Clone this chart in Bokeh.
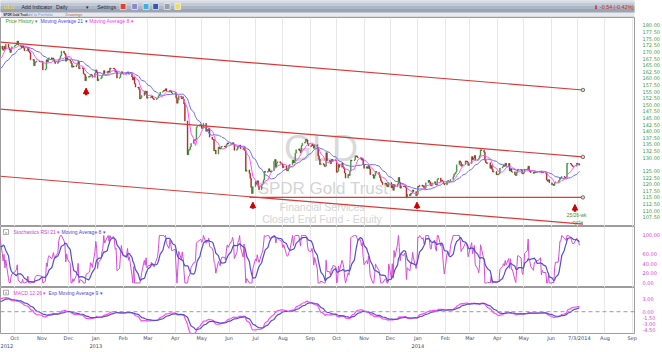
import numpy as np
import pandas as pd
from bokeh.plotting import figure
from bokeh.layouts import column
from bokeh.models import (Range1d, FixedTicker, PrintfTickFormatter, LinearAxis, Grid,
                          Span, Label, Arrow, NormalHead, ColumnDataSource)
from bokeh.core.properties import value
from bokeh.embed import file_html
from bokeh.resources import INLINE

FONT = "DejaVu Sans"
TFONT = "Liberation Sans"

# ---------------- data: GLD daily closes, one row per week (Mon..Fri) ----------------
first_monday = "2012-07-16"
weekly_closes = [
    [153.8, 154.6, 153.2, 154.4, 152.9],
    [152.8, 154.7, 156.4, 157.2, 157.2],
    [157.0, 157.3, 156.0, 155.5, 157.6],
    [157.8, 156.9, 157.6, 157.9, 157.4],
    [156.8, 156.6, 156.3, 156.9, 157.6],
    [158.5, 160.8, 161.7, 161.1, 160.5],
    [161.0, 161.5, 161.3, 160.6, 164.0],
    [164.2, 164.5, 164.3, 163.6, 166.0],
    [166.2, 167.5, 168.3, 170.5, 172.2],
    [171.1, 170.6, 172.1, 171.2, 172.9],
    [171.6, 170.8, 169.8, 171.2, 171.9],
    [172.3, 172.6, 172.9, 174.1, 172.6],
    [172.1, 171.5, 172.3, 171.5, 170.4],
    [170.6, 171.7, 170.2, 169.7, 167.0],
    [167.1, 164.8, 166.0, 166.3, 166.6],
    [166.5, 166.5, 166.3, 166.4, 163.2],
    [163.5, 167.0, 166.2, 167.5, 167.8],
    [167.2, 167.7, 167.2, 166.2, 165.6],
    [166.0, 167.1, 167.5, 168.5, 170.3],
    [169.6, 169.1, 166.5, 167.8, 166.9],
    [166.5, 165.7, 164.2, 164.7, 164.3],
    [165.0, 165.5, 166.4, 163.6, 164.0],
    [163.8, 161.7, 161.5, 159.1, 160.6],
    [160.7, 160.7, 161.5, 161.3, 160.4],
    [162.0, 163.2, 162.3, 159.1, 159.8],
    [160.2, 161.0, 161.4, 162.9, 161.9],
    [162.6, 162.8, 162.1, 163.9, 163.6],
    [163.8, 163.5, 162.5, 162.6, 160.1],
    [160.3, 161.6, 162.5, 161.8, 161.8],
    [161.8, 162.0, 162.4, 161.6, 161.8],
    [160.5, 159.4, 160.5, 158.0, 156.7],
    [156.6, 155.8, 152.2, 152.7, 153.5],
    [155.2, 154.0, 155.1, 152.5, 152.8],
    [152.9, 153.3, 152.6, 152.3, 151.9],
    [152.4, 152.6, 153.4, 153.9, 154.8],
    [155.0, 155.5, 155.3, 156.1, 155.2],
    [154.8, 155.5, 155.1, 154.5, 154.5],
    [154.6, 152.7, 150.6, 151.8, 153.3],
    [152.3, 153.0, 152.2, 150.3, 143.9],
    [131.1, 133.0, 133.1, 134.1, 135.4],
    [136.8, 136.5, 137.0, 141.5, 141.9],
    [142.5, 142.3, 141.1, 141.3, 143.0],
    [140.0, 140.7, 140.1, 141.2, 137.8],
    [137.0, 136.9, 132.6, 132.9, 131.4],
    [134.0, 133.5, 133.3, 134.1, 134.4],
    [134.3, 133.9, 135.0, 135.6, 135.2],
    [135.3, 135.3, 135.7, 135.2, 132.8],
    [133.3, 134.1, 134.3, 134.8, 133.4],
    [133.3, 133.9, 132.6, 124.9, 125.4],
    [124.1, 122.2, 118.8, 116.5, 119.1],
    [121.0, 120.0, 121.3, 119.2, 117.9],
    [119.8, 120.1, 121.6, 124.8, 124.5],
    [124.9, 125.8, 124.9, 124.6, 125.1],
    [128.6, 129.3, 126.4, 128.0, 128.5],
    [128.0, 128.0, 127.5, 126.2, 126.9],
    [125.3, 125.0, 125.8, 127.2, 127.4],
    [129.0, 128.1, 128.9, 131.7, 133.0],
    [133.3, 132.7, 131.9, 134.6, 135.5],
    [135.9, 136.9, 136.7, 135.3, 134.5],
    [134.4, 135.1, 134.6, 133.6, 134.9],
    [133.9, 130.7, 129.4, 127.4, 127.8],
    [127.4, 126.8, 126.8, 131.9, 128.9],
    [128.8, 127.8, 129.4, 128.7, 129.2],
    [128.9, 124.5, 124.9, 127.6, 126.4],
    [127.9, 126.6, 125.9, 124.2, 122.3],
    [123.7, 123.3, 124.9, 129.1, 128.9],
    [129.2, 130.7, 130.7, 130.3, 130.0],
    [130.0, 129.1, 129.6, 127.4, 126.0],
    [126.6, 126.0, 127.1, 125.8, 123.6],
    [123.6, 122.2, 123.3, 124.8, 124.4],
    [123.6, 122.5, 121.3, 120.7, 119.9],
    [120.4, 120.2, 119.2, 119.0, 120.6],
    [118.6, 119.9, 117.7, 119.8, 119.0],
    [120.1, 122.5, 120.7, 118.5, 119.3],
    [119.1, 119.4, 118.7, 114.8, 116.2],
    [115.6, 116.6, 116.6, 117.8, 117.2],
    [115.6, 116.1, 119.2, 119.1, 119.7],
    [119.2, 119.4, 118.6, 118.5, 120.5],
    [121.5, 120.9, 119.6, 119.4, 120.5],
    [120.9, 119.9, 119.7, 121.8, 122.3],
    [121.0, 121.5, 121.1, 120.3, 119.7],
    [121.1, 121.3, 121.1, 121.1, 121.8],
    [122.8, 123.8, 124.0, 124.6, 127.3],
    [128.8, 128.3, 126.8, 127.4, 127.4],
    [128.8, 128.7, 128.3, 127.1, 127.8],
    [130.4, 129.2, 129.9, 130.8, 129.0],
    [129.2, 129.7, 130.7, 133.0, 132.8],
    [132.1, 129.0, 128.1, 128.0, 128.1],
    [126.0, 127.1, 125.6, 124.6, 124.8],
    [123.6, 123.8, 123.8, 124.0, 126.1],
    [126.6, 127.2, 126.8, 127.9, 127.0],
    [127.8, 125.0, 125.8, 124.7, 124.7],
    [123.6, 123.3, 124.4, 125.6, 125.6],
    [125.4, 124.1, 123.9, 124.5, 125.6],
    [125.8, 126.8, 125.0, 124.9, 124.4],
    [124.1, 124.6, 124.6, 124.7, 124.7],
    [124.8, 124.9, 124.3, 124.5, 124.4],
    [124.4, 121.6, 121.1, 121.7, 120.5],
    [119.8, 119.9, 119.5, 120.5, 120.9],
    [120.9, 121.5, 122.4, 122.4, 122.9],
    [122.7, 122.6, 122.5, 127.8, 127.9],
    [127.7, 127.2, 126.8, 126.6, 126.8],
    [127.9, 127.5, 127.7, 127.2],
]

# chart drawings (trend channel, support, cycle arrows)
channel_dates = ["2012-09-15", "2014-07-07"]
channel_top = [173.7, 155.6]
channel_mid = [148.4, 130.3]
channel_low = [123.0, 104.9]
support_dates = ["2013-06-24", "2014-07-07"]
support_level = [115.0, 115.0]
arrow_dates = ["2012-12-21", "2013-06-28", "2013-12-31", "2014-06-28"]
arrow_tips = [156.3, 113.2, 113.2, 112.3]
arrow_tails = [153.6, 110.7, 110.7, 109.6]

# axes
price_ticks = [107.5, 110.0, 112.5, 115.0, 117.5, 120.0, 122.5, 125.0, 130.0, 132.5,
               135.0, 137.5, 140.0, 142.5, 145.0, 147.5, 150.0, 152.5, 155.0, 157.5,
               160.0, 162.5, 165.0, 167.5, 170.0, 172.5, 175.0, 177.5, 180.0]
stoch_ticks = [0, 20, 40, 60, 100]
macd_ticks = [-4.5, -3.0, -1.5, 0.0, 3.0]
last_price_text = "127.19"
last_stoch_text = "78.54"
last_macd_text = "1.37"
month_dates = ["2012-10-01", "2012-11-01", "2012-12-01", "2013-01-01", "2013-02-01",
               "2013-03-01", "2013-04-01", "2013-05-01", "2013-06-01", "2013-07-01",
               "2013-08-01", "2013-09-01", "2013-10-01", "2013-11-01", "2013-12-01",
               "2014-01-01", "2014-02-01", "2014-03-01", "2014-04-01", "2014-05-01",
               "2014-06-01", "2014-07-01", "2014-08-01", "2014-09-01"]
month_label_dates = month_dates[:21] + ["2014-07-03"] + month_dates[22:]
month_labels = ["Oct", "Nov", "Dec", "Jan", "Feb", "Mar", "Apr", "May", "Jun", "Jul",
                "Aug", "Sep", "Oct", "Nov", "Dec", "Jan", "Feb", "Mar", "Apr", "May",
                "Jun", "7/3/2014", "Aug", "Sep"]
year_dates = ["2012-09-15 04:00", "2013-01-01", "2014-01-01"]
year_labels = ["2012", "2013", "2014"]
view_start, view_end = "2012-09-15", "2014-09-03 12:00"


def ms(t):
    return pd.Timestamp(t).value / 1e6


DAY = 86400000.0

# ---------------- series ----------------
base = pd.Timestamp(first_monday)
dates, closes = [], []
for k, wk in enumerate(weekly_closes):
    for d, c in enumerate(wk):
        dates.append(ms(base + pd.Timedelta(days=7 * k + d)))
        closes.append(c)
dates = np.array(dates)
closes = np.array(closes)
opens = np.concatenate([[closes[0]], closes[:-1]])
top = np.maximum(opens, closes)
bot = np.minimum(np.minimum(opens, closes), top - 0.25)
ccol = np.where(closes >= opens, "#2b8a2b", "#a81010")

s = pd.Series(closes)
ma21 = s.rolling(21).mean()
ma8 = s.rolling(8).mean()
delta = s.diff()
gain = delta.clip(lower=0)
loss = -delta.clip(upper=0)
ag = gain.ewm(alpha=1 / 21, adjust=False).mean()
al = loss.ewm(alpha=1 / 21, adjust=False).mean()
rsi = 100 - 100 / (1 + ag / al)
lo = rsi.rolling(21).min()
hi = rsi.rolling(21).max()
stoch = (rsi - lo) / (hi - lo) * 100
stoch_ma = stoch.rolling(8).mean()
macd = s.ewm(span=12, adjust=False).mean() - s.ewm(span=26, adjust=False).mean()
signal = macd.ewm(span=9, adjust=False).mean()

# only the visible window is drawn (earlier closes only warm up the indicators)
vis = dates >= ms(view_start) - 2 * 86400000.0
src = ColumnDataSource(dict(x=dates[vis], top=top[vis], bot=bot[vis], col=ccol[vis],
                            ma21=ma21.values[vis], ma8=ma8.values[vis],
                            st=stoch.values[vis], stma=stoch_ma.values[vis],
                            macd=macd.values[vis], sig=signal.values[vis]))

xr = Range1d(ms(view_start), ms(view_end))
grid_ms = [ms(d) for d in month_dates]
W = 662
RB = 27
FRAME_W = W - RB


def txt(fig, x, y, t, size, color, align="left", style="normal", font=TFONT):
    fig.text(x=[x], y=[y], text=[t], text_font=value(font), text_font_size=size,
             text_color=color, text_align=align, text_baseline="middle",
             text_font_style=style, x_range_name="px", y_range_name="px")


def style_right_axis(fig, ticks, color):
    ax = fig.yaxis[0]
    ax.ticker = FixedTicker(ticks=ticks)
    ax.formatter = PrintfTickFormatter(format="%.2f")
    ax.major_label_text_font = FONT
    ax.major_label_text_font_size = "5px"
    ax.major_label_text_color = color
    ax.major_tick_out = 0
    ax.major_tick_in = 0
    ax.minor_tick_out = 0
    ax.minor_tick_in = 0
    ax.major_label_standoff = 8
    ax.axis_line_color = None


def panel(height, yr, bottom_border=0):
    f = figure(width=W, height=height, x_range=xr, y_range=yr, toolbar_location=None,
               output_backend="svg", x_axis_location=None, y_axis_location="right",
               min_border_left=0, min_border_top=0, min_border_bottom=bottom_border,
               min_border_right=RB)
    f.xgrid.visible = False
    f.ygrid.visible = False
    f.outline_line_color = "#9c9c9c"
    f.background_fill_color = "white"
    f.add_layout(Grid(dimension=0, ticker=FixedTicker(ticks=grid_ms),
                      grid_line_color="#e8e8e8", grid_line_width=1))
    f.extra_x_ranges = {"px": Range1d(0, FRAME_W)}
    f.extra_y_ranges = {"px": Range1d(height, 0)}
    return f


def value_box(fig, y, t, color="#333333"):
    fig.add_layout(Label(x=xr.end, y=y, x_offset=6, text=t, text_font=FONT,
                         text_font_size="5px", text_color=color, text_baseline="middle",
                         border_line_color="#777777", background_fill_color="white",
                         padding=1, border_radius=2))


# ---------------- header ----------------
hdr = figure(width=W, height=17, x_range=Range1d(0, W), y_range=Range1d(17, 0),
             toolbar_location=None, output_backend="svg", x_axis_location=None,
             y_axis_location=None, min_border=0)
hdr.outline_line_color = None
hdr.grid.visible = False
hdr.background_fill_color = "#e8e9ec"
band_top = [0, 3, 6, 9]
band_bot = [3, 6, 9, 11.5]
band_col = ["#d6dce4", "#c2c9d4", "#adb6c4", "#9aa4b4"]
hdr.quad(left=0, right=W, top=band_top, bottom=band_bot, color=band_col)
hdr.segment(x0=[0], y0=[16.5], x1=[W], y1=[16.5], line_color="#c8c8c8", line_width=1)
for x, y, t, sz, c, st in [
    (3, 6, "GLD", "5.3px", "#e3d51c", "bold"),
    (22, 6, "Add Indicator", "5.2px", "#1d2430", "normal"),
    (58, 6, "Daily", "5.2px", "#1d2430", "normal"),
    (89, 6, "\u25be", "5px", "#1d2430", "normal"),
    (101, 6, "Settings", "5.2px", "#1d2430", "normal"),
    (3, 14.2, "SPDR Gold Trust", "3px", "#222222", "bold"),
    (26, 14.2, "Add to Portfolio", "4px", "#6f8fd0", "normal"),
    (68, 14.2, "Drawings", "4px", "#b06a3a", "normal"),
    (626, 6, "-0.54 (-0.42%)", "5.3px", "#d02020", "normal"),
]:
    hdr.text(x=[x], y=[y], text=[t], text_font=value(TFONT), text_font_size=sz,
             text_color=c, text_baseline="middle", text_font_style=st)
hdr.text(x=[622], y=[6], text=["\u2b07"], text_font=value(FONT), text_font_size="5px",
         text_color="#c01818", text_align="center", text_baseline="middle")
icon_x = [128, 140, 152, 162, 174, 185]
icon_c = ["#e04030", "#8f86c8", "#3fb0dd", "#3658a8", "#9aa0a8", "#f0dc60"]
hdr.rect(x=icon_x, y=[6] * 6, width=6, height=6, fill_color=icon_c, line_color="#f4f4f4",
         line_width=0.7)

# ---------------- price panel ----------------
p1 = panel(209, Range1d(104.0, 183.0))
style_right_axis(p1, price_ticks, "#3d9a3d")

# watermark
txt(p1, 321, 131, "GLD", "36px", "#d9d9d9", align="center")
txt(p1, 323, 171, "SPDR Gold Trust", "17px", "#d4d4d4", align="center")
txt(p1, 322, 189, "Financial Services", "10.5px", "#d4d4d4", align="center")
txt(p1, 322, 201, "Closed End Fund - Equity", "10.5px", "#d4d4d4", align="center")

p1.vbar(x="x", width=DAY * 0.8, top="top", bottom="bot", fill_color="col",
        line_color="col", line_width=0.5, source=src)
p1.line("x", "ma21", source=src, line_color="#6b6bf2", line_width=1)
p1.line("x", "ma8", source=src, line_color="#ff55ff", line_width=1)

cx = [ms(d) for d in channel_dates]
for ys in (channel_top, channel_mid, channel_low):
    p1.line(cx, ys, line_color="#d83a3a", line_width=1.2)
sx = [ms(d) for d in support_dates]
p1.line(sx, support_level, line_color="#e83535", line_width=1.3)
p1.scatter([cx[1], cx[1], sx[1]], [channel_top[1], channel_mid[1], support_level[1]],
           size=3.5, fill_color="#d8d8d8", line_color="#555555", line_width=0.8)

asrc = ColumnDataSource(dict(x=[ms(d) for d in arrow_dates], y0=arrow_tails, y1=arrow_tips))
p1.add_layout(Arrow(end=NormalHead(size=5.5, fill_color="#cc0000", line_color="#cc0000"),
                    x_start="x", y_start="y0", x_end="x", y_end="y1",
                    line_color="#cc0000", line_width=2.4, source=asrc))
txt(p1, 577, 198, "25/26-wk", "4.8px", "#3a8f3a", align="center")
txt(p1, 578, 205, "cycle", "4.8px", "#3a8f3a", align="center")

txt(p1, 5, 3.8, "Price History \u25be", "5px", "#3c9a3c")
txt(p1, 40, 3.8, "Moving Average 21 \u25be", "5px", "#4848ee")
txt(p1, 89, 3.8, "Moving Average 8 \u25be", "5px", "#ee3aee")
value_box(p1, 127.19, last_price_text)

# ---------------- stochastic RSI panel ----------------
p2 = panel(61, Range1d(-9.5, 118.9))
style_right_axis(p2, stoch_ticks, "#d040d0")
p2.line("x", "st", source=src, line_color="#d94ad9", line_width=1)
p2.line("x", "stma", source=src, line_color="#4f4fd0", line_width=1.2)
p2.rect(x=[5.5], y=[5.5], width=5, height=5, fill_color="white", line_color="#888888",
        line_width=0.7, x_range_name="px", y_range_name="px")
txt(p2, 5.5, 5.5, "x", "4px", "#666666", align="center")
txt(p2, 13, 5.5, "Stochastics RSI 21 \u25be", "5px", "#d040d0")
txt(p2, 61, 5.5, "Moving Average 8 \u25be", "5px", "#4a4ad0")
value_box(p2, 78.54, last_stoch_text)

# ---------------- MACD panel ----------------
p3 = panel(63, Range1d(-5.35, 5.94))
p3.extra_y_ranges = {"px": Range1d(50, 0)}
style_right_axis(p3, macd_ticks, "#d040d0")
p3.add_layout(Span(location=0, dimension="width", line_color="#9a9a9a", line_width=1,
                   line_dash="4 3"))
p3.line("x", "macd", source=src, line_color="#ff4cff", line_width=1.2)
p3.line("x", "sig", source=src, line_color="#5252c4", line_width=1.2)
p3.rect(x=[5.5], y=[5.5], width=5, height=5, fill_color="white", line_color="#888888",
        line_width=0.7, x_range_name="px", y_range_name="px")
txt(p3, 5.5, 5.5, "x", "4px", "#666666", align="center")
txt(p3, 13, 5.5, "MACD 12 26 \u25be", "5px", "#e040e0")
txt(p3, 48, 5.5, "Exp Moving Average 9 \u25be", "5px", "#4a4ad0")
value_box(p3, 1.37, last_macd_text)

m_ms = [ms(d) for d in month_label_dates]
y_ms = [ms(d) for d in year_dates]
for ticks, labels, standoff in ((m_ms, month_labels, 1), (y_ms, year_labels, 0)):
    ax = LinearAxis(ticker=FixedTicker(ticks=ticks),
                    major_label_overrides={t: l for t, l in zip(ticks, labels)})
    ax.major_label_text_font = FONT
    ax.major_label_text_font_size = "5px"
    ax.major_label_text_color = "#3b4a66"
    ax.major_tick_out = 0
    ax.major_tick_in = 0
    ax.minor_tick_out = 0
    ax.minor_tick_in = 0
    ax.axis_line_color = None
    ax.major_label_standoff = standoff
    p3.add_layout(ax, "below")

# ---------------- footer strip ----------------
foot = figure(width=W, height=2, x_range=Range1d(0, 1), y_range=Range1d(0, 1),
              toolbar_location=None, output_backend="svg", x_axis_location=None,
              y_axis_location=None, min_border=0)
foot.outline_line_color = None
foot.grid.visible = False
foot.background_fill_color = "#a6d8e8"
foot.border_fill_color = "#a6d8e8"

layout = column(hdr, p1, p2, p3, foot, spacing=0)
open("out.html", "w").write(file_html(layout, INLINE))
